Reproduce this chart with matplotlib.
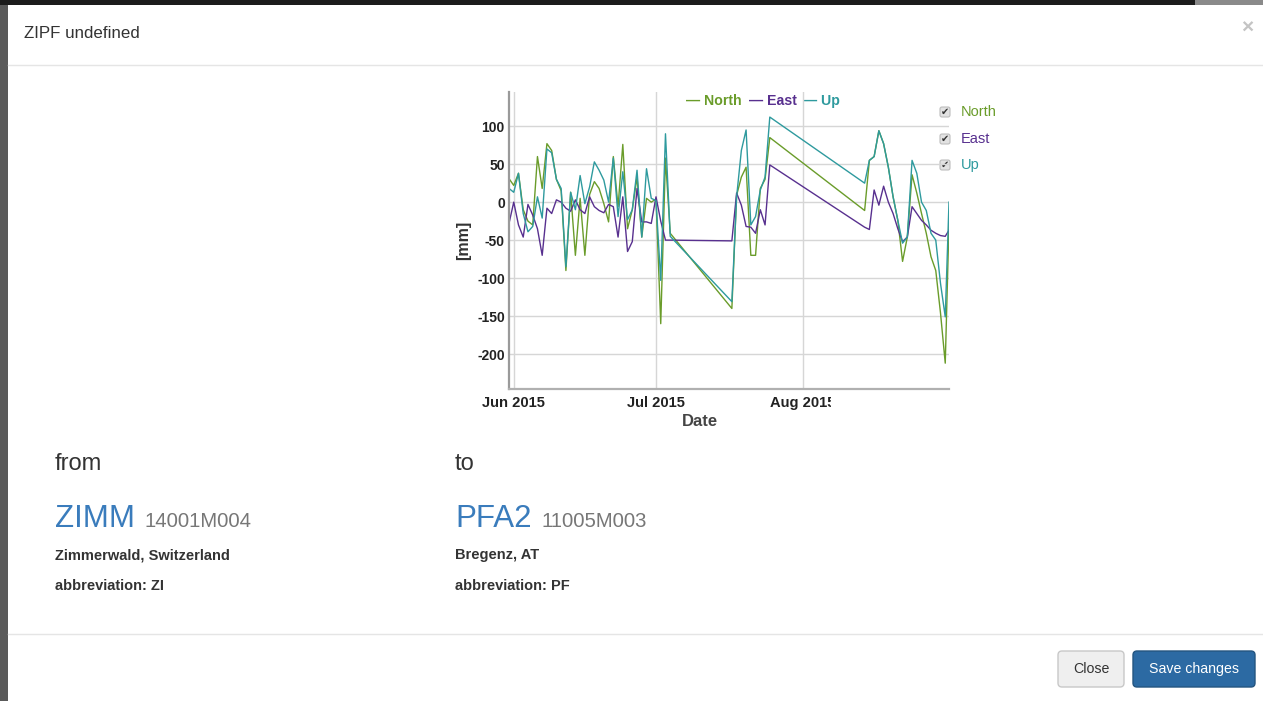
import numpy as np
import pandas as pd
import matplotlib
matplotlib.use('Agg')
import matplotlib.pyplot as plt
from matplotlib.patches import Rectangle, FancyBboxPatch
from matplotlib.transforms import IdentityTransform

plt.rcParams['font.family'] = ['Liberation Sans', 'DejaVu Sans']

# ---- data (mm) ----
dates = ['2015-05-31', '2015-06-01', '2015-06-02', '2015-06-03', '2015-06-04', '2015-06-05',
         '2015-06-06', '2015-06-07', '2015-06-08', '2015-06-09', '2015-06-10', '2015-06-11',
         '2015-06-12', '2015-06-13', '2015-06-14', '2015-06-15', '2015-06-16', '2015-06-17',
         '2015-06-18', '2015-06-19', '2015-06-20', '2015-06-21', '2015-06-22', '2015-06-23',
         '2015-06-24', '2015-06-25', '2015-06-26', '2015-06-27', '2015-06-28', '2015-06-29',
         '2015-06-30', '2015-07-01', '2015-07-02', '2015-07-03', '2015-07-04',
         '2015-07-17', '2015-07-18', '2015-07-19', '2015-07-20', '2015-07-21', '2015-07-22',
         '2015-07-23', '2015-07-24', '2015-07-25',
         '2015-08-14', '2015-08-15', '2015-08-16', '2015-08-17', '2015-08-18', '2015-08-19',
         '2015-08-20', '2015-08-21', '2015-08-22', '2015-08-23', '2015-08-24', '2015-08-25',
         '2015-08-26', '2015-08-27', '2015-08-28', '2015-08-29', '2015-08-30', '2015-08-31',
         '2015-08-31 19:00']
north = [31, 22, 38, -10, -25, -30, 60, 18, 77, 68, 30, 15, -90, 13, -70, 5, -70, 10,
         27, 18, -2, -26, 60, -6, 76, -35, -10, 33, -46, 5, 0, 4, -160, 58, -41,
         -140, 9, 33, 46, -70, -70, 18, 30, 85,
         -11, 55, 60, 94, 77, 46, 7, -24, -78, -46, 36, 12, -15, -41, -72, -90, -146, -212,
         -28]
east = [-28, 0, -30, -46, -3, -17, -35, -70, -8, -15, 3, 0, -8, -12, 3, -10, -15, 7,
        -6, -11, -14, -3, -6, -46, 7, -65, -52, 18, -26, -26, -28, 7, -25, -50, -50,
        -51, 12, -4, -32, -33, -41, -10, -30, 49,
        -33, -36, 16, -4, 21, 0, -15, -35, -52, -46, -6, -15, -24, -30, -37, -41, -44, -45,
        -37]
up = [18, 13, 38, -15, -39, -32, 7, -21, 70, 65, 30, 18, -85, 13, -10, 35, -2, 20,
      53, 42, 29, 0, 58, -19, 40, -23, -10, 42, -46, 44, 5, 2, -103, 90, -45,
      -131, 7, 68, 95, -30, -19, 16, 33, 112,
      25, 55, 60, 94, 77, 46, 7, -24, -54, -46, 55, 38, 0, -11, -41, -50, -107, -151,
      0]

series = ['North', 'East', 'Up']
colors = ['#6a9c2a', '#58308f', '#2e9a9e']
yticks = [-200, -150, -100, -50, 0, 50, 100]
xticks = ['2015-06-01', '2015-07-01', '2015-08-01']
xticklabels = ['Jun 2015', 'Jul 2015', 'Aug 2015']

W, H = 1263, 701
fig = plt.figure(figsize=(W / 100, H / 100), dpi=100)
fig.patch.set_facecolor('white')

# page / modal background drawn in pixel coordinates
bg = fig.add_axes([0, 0, 1, 1])
bg.set_xlim(0, W)
bg.set_ylim(H, 0)
bg.axis('off')
bg.add_patch(Rectangle((0, 0), 8, H, color='#5a5a5a', lw=0))
bg.add_patch(Rectangle((0, 0), W, 5, color='#1c1c1c', lw=0))
bg.add_patch(Rectangle((1195, 0), W - 1195, 5, color='#8a8a8a', lw=0))
bg.plot([8, W], [65, 65], color='#e5e5e5', lw=1)
bg.plot([8, W], [634, 634], color='#e5e5e5', lw=1)

bg.text(24, 34, 'ZIPF undefined', fontsize=12.2, color='#333333', va='center')
bg.text(1247, 28, '×', fontsize=15, fontweight='bold', color='#c4c4c4', va='center', ha='center')

# station info
for x0, name, code, place, abbr, head in [
        (55, 'ZIMM', '14001M004', 'Zimmerwald, Switzerland', 'abbreviation: ZI', 'from'),
        (455, 'PFA2', '11005M003', 'Bregenz, AT', 'abbreviation: PF', 'to')]:
    bg.text(x0, 470, head, fontsize=17, color='#333333', va='baseline')
    t = bg.text(x0, 527, name, fontsize=22.5, color='#3a7cbc', va='baseline')
    fig.canvas.draw()
    bb = t.get_window_extent()
    bg.text(bb.x1 + 10, 527, code, fontsize=14.6, color='#777777', va='baseline')
    bg.text(x0, 555, place, fontsize=10.5, fontweight='bold', color='#333333', va='center')
    bg.text(x0, 586, abbr, fontsize=10.5, fontweight='bold', color='#333333', va='center')

# footer buttons
bg.add_patch(FancyBboxPatch((1058, 651), 66, 36, boxstyle='round,pad=0,rounding_size=4',
                            fc='#efefef', ec='#c8c8c8', lw=1))
bg.text(1091, 669, 'Close', fontsize=10.2, color='#333333', ha='center', va='center')
bg.add_patch(FancyBboxPatch((1133, 651), 122, 36, boxstyle='round,pad=0,rounding_size=4',
                            fc='#2c6aa3', ec='#245580', lw=1))
bg.text(1194, 669, 'Save changes', fontsize=10.2, color='white', ha='center', va='center')

# ---- the chart ----
ax = fig.add_axes([509 / W, 1 - 389 / H, 440 / W, 297 / H])
ax.patch.set_alpha(0)
d = pd.to_datetime(dates, format='ISO8601')
for name, vals, c in zip(series, [north, east, up], colors):
    ax.plot(d, vals, color=c, lw=1.0, label=name)

ax.set_xlim(d[0], d[-1])
ax.set_ylim(-246, 145)
ax.set_yticks(yticks)
ax.set_yticklabels([str(v) for v in yticks], fontsize=10, fontweight='bold', color='#222222')
xt = pd.to_datetime(xticks)
ax.set_xticks(xt)
ax.set_xticklabels(xticklabels, fontsize=10.6, fontweight='bold', color='#222222')
ax.tick_params(axis='both', length=0)
ax.tick_params(axis='y', pad=3)
ax.tick_params(axis='x', pad=5)
ax.grid(True, color='#d6d6d6', lw=1)
ax.set_axisbelow(True)
for s in ['top', 'right']:
    ax.spines[s].set_visible(False)
ax.spines['left'].set_color('#9a9a9a')
ax.spines['left'].set_linewidth(1.6)
ax.spines['bottom'].set_color('#b0b0b0')
ax.spines['bottom'].set_linewidth(1.6)
ax.set_xlabel('Date', fontsize=12, fontweight='bold', color='#444444')
ax.xaxis.set_label_coords((700 - 509) / 440, -0.085)
ax.set_ylabel('[mm]', fontsize=11.5, fontweight='bold', color='#333333', labelpad=4)

# the last x label is cut off at the chart div edge in the original
fig.add_artist(Rectangle((831, H - 414), 40, 22, transform=IdentityTransform(),
                         color='white', lw=0, zorder=10))

# inline legend at the top
for x0, name, c in zip([686, 749, 803], series, colors):
    bg.text(x0, 101, '— ' + name, fontsize=10.2, fontweight='bold', color=c, va='center')

# checkbox list on the right
for yy, name, c in zip([112, 139, 165], series, colors):
    bg.add_patch(FancyBboxPatch((940, yy - 5), 10, 10, boxstyle='round,pad=0,rounding_size=2',
                                fc='#e2e2e2', ec='#bdbdbd', lw=0.8))
    bg.text(945, yy, '✔', fontsize=7, color='#333333', ha='center', va='center',
            family='DejaVu Sans')
    bg.text(961, yy, name, fontsize=10.5, color=c, va='center')

fig.savefig('out.png', dpi=100)
